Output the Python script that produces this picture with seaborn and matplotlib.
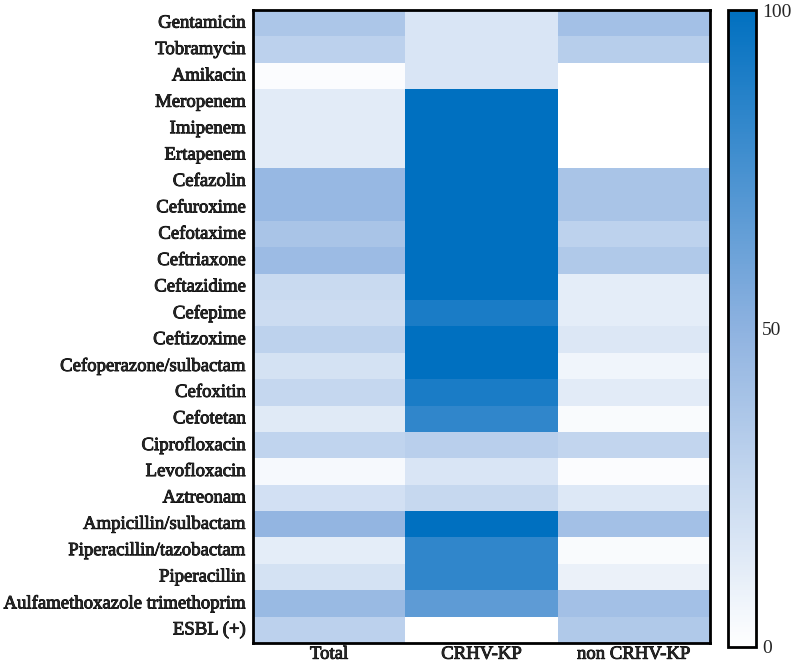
import numpy as np
import pandas as pd
import matplotlib
matplotlib.use("Agg")
import matplotlib.pyplot as plt
import matplotlib.patheffects as pe
import seaborn as sns
from matplotlib.colors import LinearSegmentedColormap

antibiotics = [
    "Gentamicin", "Tobramycin", "Amikacin", "Meropenem", "Imipenem", "Ertapenem",
    "Cefazolin", "Cefuroxime", "Cefotaxime", "Ceftriaxone", "Ceftazidime", "Cefepime",
    "Ceftizoxime", "Cefoperazone/sulbactam", "Cefoxitin", "Cefotetan", "Ciprofloxacin",
    "Levofloxacin", "Aztreonam", "Ampicillin/sulbactam", "Piperacillin/tazobactam",
    "Piperacillin", "Aulfamethoxazole trimethoprim", "ESBL (+)",
]
groups = ["Total", "CRHV-KP", "non CRHV-KP"]

total = [37, 30, 2, 13, 13, 13, 46, 46, 38, 44, 24, 23,
         29, 19, 26, 14, 28, 4, 20, 48, 12, 19, 45, 30]
crhv_kp = [17, 17, 17, 100, 100, 100, 100, 100, 100, 100, 100, 91,
           100, 100, 91, 83, 31, 17, 25, 100, 83, 83, 67, 0]
non_crhv_kp = [41, 32, 0, 0, 0, 0, 38, 38, 29, 35, 12, 12,
               16, 7, 13, 3, 27, 2, 15, 41, 3, 9, 41, 35]

df = pd.DataFrame({"Total": total, "CRHV-KP": crhv_kp, "non CRHV-KP": non_crhv_kp},
                  index=antibiotics)

sns.set_style("white")
plt.rcParams["font.family"] = ["Liberation Serif", "DejaVu Serif"]

# white -> soft blue -> strong blue, as in the reference colour bar
cmap = LinearSegmentedColormap.from_list(
    "wb", [(0.0, "#ffffff"), (0.5, "#8eb2e0"), (1.0, "#0070c0")])

fig = plt.figure(figsize=(7.92, 6.67), dpi=100)
ax = fig.add_axes([0.3194, 0.036, 0.577, 0.949])
cax = fig.add_axes([0.919, 0.030, 0.036, 0.955])

sns.heatmap(df, ax=ax, cmap=cmap, vmin=0, vmax=100, cbar_ax=cax,
            cbar_kws={"ticks": [0, 50, 100]})

# slightly heavier text, like the reference rendering
heavy = [pe.withStroke(linewidth=0.6, foreground="black")]

ax.tick_params(axis="y", length=0, pad=5)
ax.tick_params(axis="x", length=0, pad=2)
ax.set_yticklabels(antibiotics, rotation=0, fontsize=13.5, path_effects=heavy)
ax.set_xticklabels(groups, rotation=0, fontsize=13.5, path_effects=heavy)
for s in ax.spines.values():
    s.set_visible(True)
    s.set_linewidth(2)
    s.set_color("black")

cax.tick_params(length=0, labelsize=14, pad=4)
cbar = ax.collections[0].colorbar
cbar.outline.set_visible(True)
cbar.outline.set_linewidth(2)
cbar.outline.set_edgecolor("black")

fig.savefig("out.png", dpi=100)
